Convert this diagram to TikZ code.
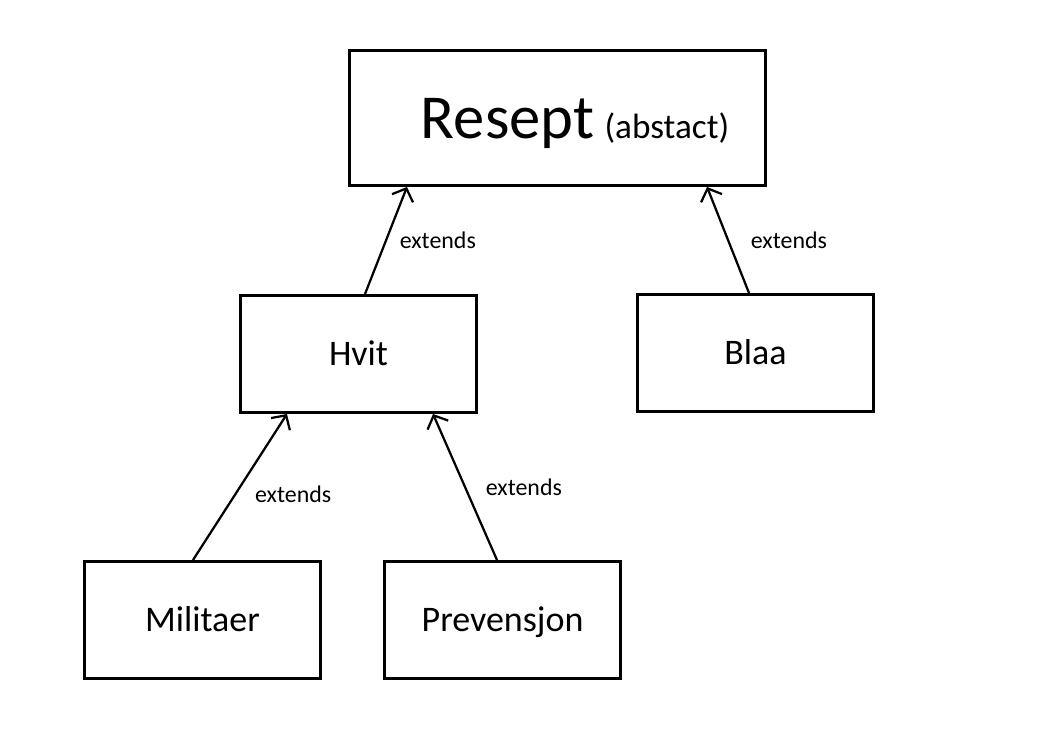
\documentclass[tikz,border=0pt]{standalone}
\usepackage{fontspec}
\setmainfont{Carlito}
\usepackage{tikz}
\usetikzlibrary{arrows.meta}
\tikzset{%
  tipE/.tip={Straight Barb[length=7.5pt,width=16pt]},
  klasse/.style={draw, line width=2.1pt, minimum width=5.9cm, minimum height=2.925cm, text height=17pt, text depth=0pt, font=\fontsize{25.6}{30}\selectfont},
  ext/.style={font=\fontsize{17}{20}\selectfont, inner sep=0pt},
  arv/.style={line width=1.6pt, -tipE}
}

\begin{document}
\begin{tikzpicture}[x=0.025cm, y=-0.025cm]
	\useasboundingbox (0,0) rectangle (1037,734);
	\node [draw, line width=2.1pt, minimum width=10.4cm, minimum height=3.375cm, text height=28.5pt, text depth=0pt] (resept) at (557.5,118) {\hspace*{25pt}\fontsize{44.5}{50}\selectfont Resept\,\fontsize{25}{30}\selectfont(abstact)};
	\node [klasse] (hvit) at (358.5,354) {Hvit};
	\node [klasse] (blaa) at (755.5,353) {Blaa};
	\node [klasse] (militaer) at (202.5,620) {Militaer};
	\node [klasse] (prevensjon) at (502.5,620) {Prevensjon};
	% arvepiler
	\draw [arv] ([xshift=0.1625cm]hvit.north) -- node [ext, midway, right=9pt] {extends} ([xshift=-3.7625cm]resept.south);
	\draw [arv] ([xshift=-0.1625cm]blaa.north) -- node [ext, midway, right=15.5pt] {extends} ([xshift=3.7375cm]resept.south);
	\draw [arv] ([xshift=-0.2375cm]militaer.north) -- node [ext, midway, right=10pt, yshift=-5pt] {extends} ([xshift=-1.7875cm]hvit.south);
	\draw [arv] ([xshift=-0.1375cm]prevensjon.north) -- node [ext, midway, right=14pt] {extends} ([xshift=1.8625cm]hvit.south);
\end{tikzpicture}
\end{document}
